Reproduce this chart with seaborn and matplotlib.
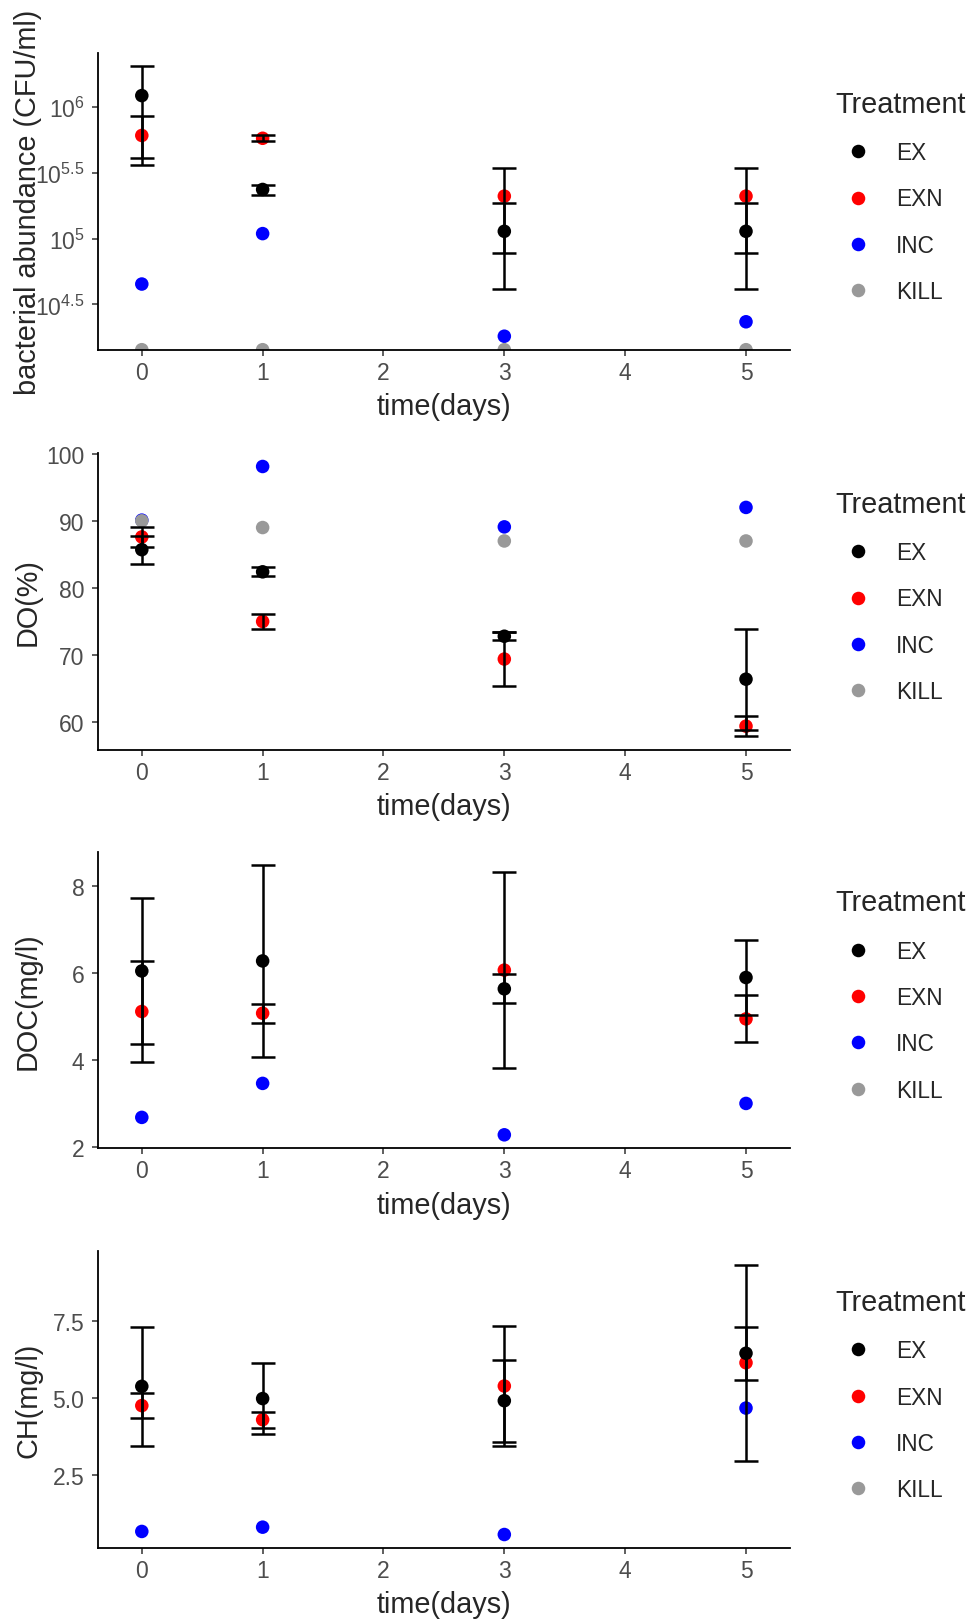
import numpy as np
import pandas as pd
import matplotlib
matplotlib.use("Agg")
import matplotlib.pyplot as plt
import seaborn as sns

# sampling days and treatments
days = [0, 1, 3, 5]
treatments = ["EX", "EXN", "INC", "KILL"]
colors = {"EX": "black", "EXN": "red", "INC": "blue", "KILL": "#999999"}

# bacterial abundance (CFU/ml), mean and sd
bact_ex = [1.22e6, 2.36e5, 1.135e5, 1.135e5]
bact_ex_sd = [8.1e5, 2.1e4, 7.2e4, 7.2e4]
bact_exn = [6.07e5, 5.78e5, 2.10e5, 2.10e5]
bact_exn_sd = [2.45e5, 3.0e4, 1.32e5, 1.32e5]
bact_inc = [4.51e4, 1.09e5, 1.81e4, 2.33e4]
bact_kill = [0, 0, 0, 0]

# dissolved oxygen (%)
do_ex = [85.7, 82.4, 72.8, 66.4]
do_ex_sd = [2.1, 0.65, 0.6, 7.5]
do_exn = [87.6, 75.0, 69.4, 59.4]
do_exn_sd = [1.5, 1.07, 4.0, 1.5]
do_inc = [90.1, 98.1, 89.1, 92.0]
do_kill = [90.0, 89.0, 87.0, 87.0]

# dissolved organic carbon (mg/l)
doc_ex = [6.04, 6.27, 5.63, 5.89]
doc_ex_sd = [1.67, 2.2, 0.335, 0.86]
doc_exn = [5.11, 5.07, 6.06, 4.94]
doc_exn_sd = [1.17, 0.22, 2.24, 0.54]
doc_inc = [2.68, 3.46, 2.28, 3.0]
doc_kill = [np.nan, np.nan, np.nan, np.nan]

# carbohydrates (mg/l)
ch_ex = [5.38, 4.98, 4.91, 6.46]
ch_ex_sd = [1.95, 1.16, 1.34, 0.86]
ch_exn = [4.75, 4.29, 5.39, 6.15]
ch_exn_sd = [0.4, 0.26, 1.97, 3.2]
ch_inc = [0.64, 0.78, 0.54, 4.67]
ch_kill = [np.nan, np.nan, np.nan, np.nan]

sns.set_style("ticks")
plt.rcParams["font.family"] = ["Liberation Sans", "DejaVu Sans"]
plt.rcParams["mathtext.fontset"] = "custom"
plt.rcParams["mathtext.rm"] = "Liberation Sans"
plt.rcParams["mathtext.it"] = "Liberation Sans:italic"

fig = plt.figure(figsize=(9.75, 16.24), dpi=100)

LEFT = 98.3 / 975
WIDTH = 691.2 / 975
HEIGHT = 296.7 / 1624
bottoms = [1 - 350.7 / 1624, 1 - 750.7 / 1624, 1 - 1149.3 / 1624, 1 - 1549 / 1624]


def draw_panel(ax, ex, ex_sd, exn, exn_sd, inc, kill, ylabel, yticks, yticklabels, log=False):
    ex, ex_sd, exn, exn_sd = map(np.asarray, (ex, ex_sd, exn, exn_sd))
    inc, kill = np.asarray(inc, float), np.asarray(kill, float)
    d = np.asarray(days)

    # limits like ggplot: data range + 5%
    vals = np.concatenate([ex - ex_sd, ex + ex_sd, exn - exn_sd, exn + exn_sd, inc, kill])
    vals = vals[~np.isnan(vals)]
    if log:
        vals = np.log10(vals[vals > 0])
    lo, hi = vals.min(), vals.max()
    pad = 0.05 * (hi - lo)
    lo, hi = lo - pad, hi + pad
    if log:
        lo, hi = 10 ** lo, 10 ** hi
        kill = np.where(kill <= 0, lo, kill)  # -Inf drawn at panel edge

    # draw order: EXN, INC, KILL, EX
    df = pd.concat([
        pd.DataFrame({"day": d, "value": exn, "Treatment": "EXN"}),
        pd.DataFrame({"day": d, "value": inc, "Treatment": "INC"}),
        pd.DataFrame({"day": d, "value": kill, "Treatment": "KILL"}),
        pd.DataFrame({"day": d, "value": ex, "Treatment": "EX"}),
    ], ignore_index=True)

    sns.scatterplot(data=df, x="day", y="value", hue="Treatment", hue_order=treatments,
                    palette=colors, s=95, linewidth=0, ax=ax, zorder=2)
    for m, sd in [(ex, ex_sd), (exn, exn_sd)]:
        ax.errorbar(d, m, yerr=sd, fmt="none", ecolor="black", elinewidth=1.8,
                    capsize=8.4, capthick=1.8, zorder=3)

    if log:
        ax.set_yscale("log")
        ax.minorticks_off()
    ax.set_ylim(lo, hi)
    xpad = 0.05 * (5.2)
    ax.set_xlim(-0.1 - xpad, 5.1 + xpad)
    ax.set_xticks(range(6))
    ax.set_yticks(yticks, yticklabels)

    ax.set_xlabel("time(days)", fontsize=20.8, va="center")
    ax.xaxis.set_label_coords(0.5, -0.19)
    ax.set_ylabel(ylabel, fontsize=20.8, va="center")
    ax.yaxis.set_label_coords(-0.1017, 0.5)

    ax.tick_params(axis="both", length=4, width=1.1, color="#333333",
                   labelsize=16.5, labelcolor="#4D4D4D")
    ax.tick_params(axis="x", pad=4)
    ax.tick_params(axis="y", pad=6)
    sns.despine(ax=ax)
    for side in ["left", "bottom"]:
        ax.spines[side].set_linewidth(1.3)
        ax.spines[side].set_color("black")

    sns.move_legend(ax, "upper left", bbox_to_anchor=(1.067, 0.876), frameon=False,
                    title="Treatment", fontsize=16.3, title_fontsize=20.8,
                    labelspacing=1.03, handletextpad=0.66, handlelength=2,
                    borderpad=0, borderaxespad=0, alignment="left")


panels = [
    (bact_ex, bact_ex_sd, bact_exn, bact_exn_sd, bact_inc, bact_kill,
     "bacterial abundance (CFU/ml)",
     [10 ** 4.5, 1e5, 10 ** 5.5, 1e6],
     ["$10^{4.5}$", "$10^{5}$", "$10^{5.5}$", "$10^{6}$"], True),
    (do_ex, do_ex_sd, do_exn, do_exn_sd, do_inc, do_kill, "DO(%)",
     [60, 70, 80, 90, 100], ["60", "70", "80", "90", "100"], False),
    (doc_ex, doc_ex_sd, doc_exn, doc_exn_sd, doc_inc, doc_kill, "DOC(mg/l)",
     [2, 4, 6, 8], ["2", "4", "6", "8"], False),
    (ch_ex, ch_ex_sd, ch_exn, ch_exn_sd, ch_inc, ch_kill, "CH(mg/l)",
     [2.5, 5.0, 7.5], ["2.5", "5.0", "7.5"], False),
]

for b, p in zip(bottoms, panels):
    ax = fig.add_axes([LEFT, b, WIDTH, HEIGHT])
    draw_panel(ax, *p[:9], log=p[9])

fig.savefig("out.png", dpi=100)
plt.close(fig)
